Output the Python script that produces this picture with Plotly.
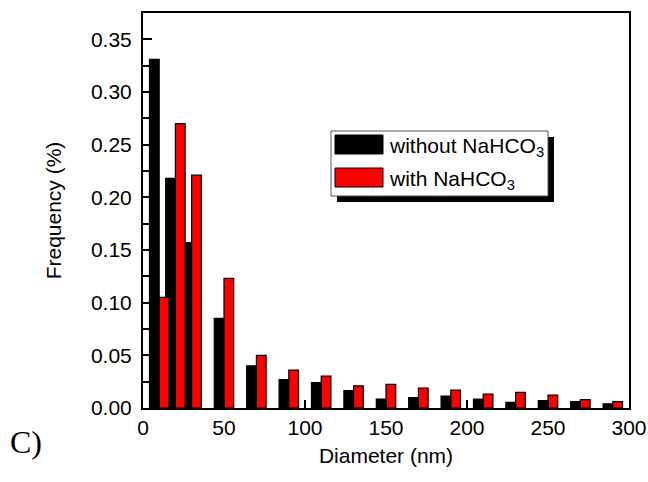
import plotly.graph_objects as go

# bin centres (nm)
diameter = [10, 20, 30, 50, 70, 90, 110, 130, 150, 170, 190, 210, 230, 250, 270, 290]
without_nahco3 = [0.331, 0.218, 0.157, 0.085, 0.040, 0.027, 0.024, 0.0165, 0.0085, 0.0098,
                  0.0114, 0.0085, 0.0054, 0.007, 0.006, 0.004]
with_nahco3 = [0.105, 0.270, 0.221, 0.123, 0.050, 0.036, 0.0304, 0.021, 0.0225, 0.019,
               0.017, 0.0133, 0.0149, 0.0123, 0.008, 0.006]
y_ticks = [0.00, 0.05, 0.10, 0.15, 0.20, 0.25, 0.30, 0.35]
x_ticks = [0, 50, 100, 150, 200, 250, 300]

FONT = "Liberation Sans"
fig = go.Figure()
fig.add_trace(go.Bar(x=diameter, y=without_nahco3, width=6, offset=-6,
                     marker=dict(color="black", line=dict(color="black", width=1.2)),
                     name="without NaHCO<sub>3</sub>"))
fig.add_trace(go.Bar(x=diameter, y=with_nahco3, width=6, offset=0,
                     marker=dict(color="#ff0000", line=dict(color="black", width=1.2)),
                     name="with NaHCO<sub>3</sub>"))

L, R, T, B = 143, 629, 13, 408
fig.update_layout(
    width=648, height=482,
    margin=dict(l=L, r=648 - R, t=T, b=482 - B),
    paper_bgcolor="white", plot_bgcolor="white",
    barmode="overlay", showlegend=False,
    font=dict(family=FONT, size=21, color="black"),
)
fig.update_xaxes(range=[0, 300], tickvals=x_ticks, ticks="inside", ticklen=8, tickwidth=1.5,
                 tickcolor="black", showline=True, linecolor="black", linewidth=2, mirror=True,
                 showgrid=False, zeroline=False, automargin=False,
                 title=dict(text="Diameter (nm)", standoff=10, font=dict(size=21)),
                 tickfont=dict(size=21))
fig.update_yaxes(range=[0, 0.375], tickvals=y_ticks, tickformat=".2f", ticks="inside",
                 ticklen=9, tickwidth=1.5, tickcolor="black",
                 minor=dict(dtick=0.025, ticks="inside", ticklen=6, tickwidth=1.5, tickcolor="black"),
                 showline=True, linecolor="black", linewidth=2, mirror=True,
                 showgrid=False, zeroline=False, automargin=False, ticklabelstandoff=5,
                 title=dict(text="Frequency (%)", standoff=24, font=dict(size=21)),
                 tickfont=dict(size=21))

# helpers mapping figure pixels to plot-area paper coordinates
def px(x):
    return (x - L) / (R - L)
def py(y):
    return (B - y) / (B - T)

# legend (drawn manually to match the framed, shadowed box)
lx0, lx1, ly0, ly1 = 331, 548, 131, 196
fig.add_shape(type="rect", xref="paper", yref="paper", x0=px(lx0 + 6), x1=px(lx1 + 6),
              y0=py(ly1 + 6), y1=py(ly0 + 6), fillcolor="black", line=dict(width=0))
fig.add_shape(type="rect", xref="paper", yref="paper", x0=px(lx0), x1=px(lx1),
              y0=py(ly1), y1=py(ly0), fillcolor="white", line=dict(color="#555555", width=1))
names = [fig.data[0].name, fig.data[1].name]
colors = ["black", "#ff0000"]
for i, (nm, c) in enumerate(zip(names, colors)):
    top = 135 + i * 33
    fig.add_shape(type="rect", xref="paper", yref="paper", x0=px(335), x1=px(383),
                  y0=py(top + 19), y1=py(top), fillcolor=c, line=dict(color="black", width=1))
    fig.add_annotation(xref="paper", yref="paper", x=px(387), y=py(top + 12), text=nm,
                       showarrow=False, xanchor="left", yanchor="middle",
                       font=dict(family=FONT, size=21, color="black"))

fig.add_annotation(xref="paper", yref="paper", x=px(8), y=py(442), text="C)", showarrow=False,
                   xanchor="left", yanchor="middle",
                   font=dict(family="Liberation Serif", size=32, color="black"))

fig.write_html("out.html", config={"displayModeBar": False},
               post_script="document.body.style.margin='0';")
